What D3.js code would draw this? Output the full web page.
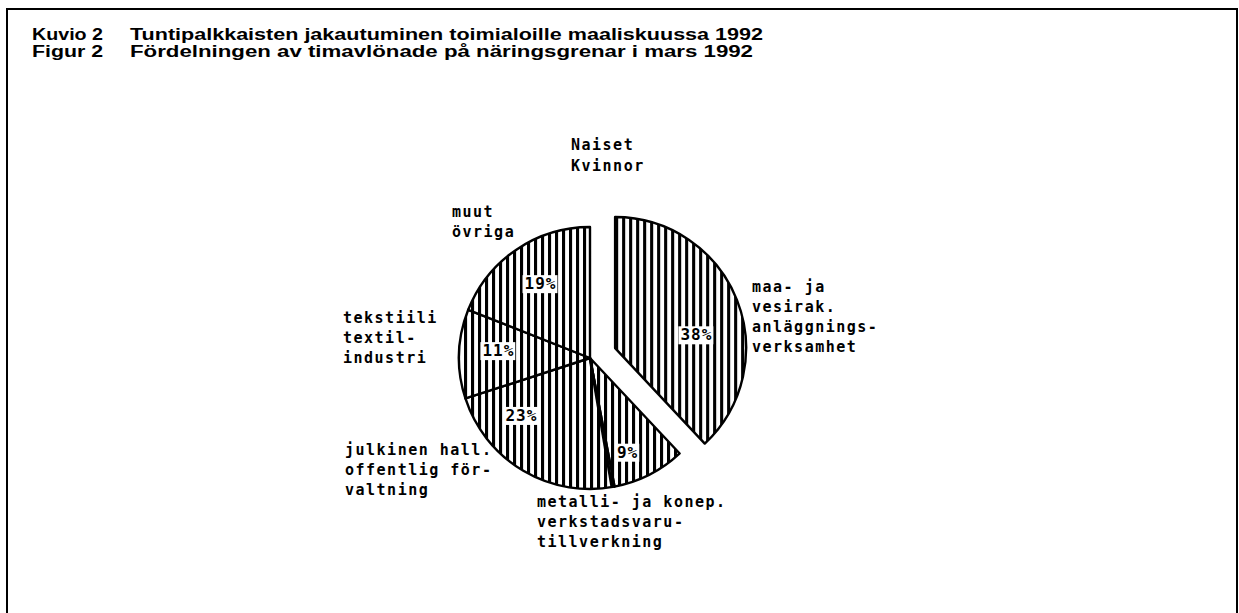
<!DOCTYPE html>
<html>
<head>
<meta charset="utf-8">
<script src="https://cdn.jsdelivr.net/npm/d3@7"></script>
<style>
  body { margin: 0; background: #fff; }
  .title { font-family: "Liberation Sans Narrow", "Liberation Sans", Arial, sans-serif; font-weight: bold; font-size: 16px; }
  .lbl { font-family: "DejaVu Sans Mono", monospace; font-weight: bold; font-size: 15px; letter-spacing: 1.5px; }
</style>
</head>
<body>
<svg id="chart" width="1239" height="613"></svg>
<script>
// figure text
const titleNums = ["Kuvio 2", "Figur 2"];
const titleTexts = ["Tuntipalkkaisten jakautuminen toimialoille maaliskuussa 1992",
                    "Fördelningen av timavlönade på näringsgrenar i mars 1992"];
const pieTitle = ["Naiset", "Kvinnor"];

// slices, clockwise from 12 o'clock
const shares = [38, 9, 23, 11, 19];
const categoryLines = [
  ["maa- ja", "vesirak.", "anläggnings-", "verksamhet"],
  ["metalli- ja konep.", "verkstadsvaru-", "tillverkning"],
  ["julkinen hall.", "offentlig för-", "valtning"],
  ["tekstiili", "textil-", "industri"],
  ["muut", "övriga"]
];

//layout, kept apart from the data
const W = 1239, H = 613;
const cx = 590, cy = 358, R = 131, explode = 27;
const labelOffsets = [[162, -66], [-53, 149], [-245, 97], [-247, -35], [-138, -141]]; // first baseline, rel. to centre
const pctNudge = [[-4, 20], [-4, 12], [-22, -22], [0, -5], [2, 1]];
const lineGap = 20;

const svg = d3.select('#chart');

// vertical hatching
const defs = svg.append('defs');
const pw = 7;
const pat = defs.append('pattern')
  .attr('id', 'vhatch')
  .attr('patternUnits', 'userSpaceOnUse')
  .attr('width', pw).attr('height', 10);
pat.append('rect').attr('width', pw).attr('height', 10).attr('fill', '#fff');
pat.append('rect').attr('x', 0).attr('width', 3.1).attr('height', 10).attr('fill', '#000');

// frame
svg.append('path')
  .attr('d', `M7,${H} V9 H1237 V${H}`)
  .attr('fill', 'none').attr('stroke', '#000').attr('stroke-width', 2);

// titles
svg.selectAll('text.num').data(titleNums).enter().append('text')
  .attr('class', 'title num')
  .attr('x', 32).attr('y', (d, i) => 40 + i * 17)
  .attr('textLength', 71).attr('lengthAdjust', 'spacingAndGlyphs')
  .text(d => d);
svg.selectAll('text.ttl').data(titleTexts).enter().append('text')
  .attr('class', 'title ttl')
  .attr('x', 130).attr('y', (d, i) => 40 + i * 17)
  .attr('textLength', (d, i) => i === 0 ? 633 : 623).attr('lengthAdjust', 'spacingAndGlyphs')
  .text(d => d);

// pie
const pie = d3.pie().sort(null).value(d => d);
const arcs = pie(shares);
const arc = d3.arc().innerRadius(0).outerRadius(R);
const labelArc = d3.arc().innerRadius(0.7 * R).outerRadius(0.7 * R);

const shift = (d, i) => {
  if (i !== 0) return [0, 0];
  const m = (d.startAngle + d.endAngle) / 2;
  return [Math.sin(m) * explode, -Math.cos(m) * explode];
};

const g = svg.append('g').attr('transform', `translate(${cx},${cy})`);

const slices = g.selectAll('g.slice').data(arcs).enter().append('g')
  .attr('class', 'slice')
  .attr('transform', (d, i) => `translate(${shift(d, i)})`);

slices.append('path')
  .attr('d', arc)
  .attr('fill', 'url(#vhatch)')
  .attr('stroke', '#000').attr('stroke-width', 2.4)
  .attr('stroke-linejoin', 'round');

// heavy seam between metalli and julkinen
const seam = arcs[1].endAngle + 0.02;
g.append('line')
  .attr('x1', 0).attr('y1', 0)
  .attr('x2', Math.sin(seam) * R).attr('y2', -Math.cos(seam) * R)
  .attr('stroke', '#000').attr('stroke-width', 3);

// percent labels on white patches
slices.each(function(d, i) {
  const s = d3.select(this);
  const [x, y] = labelArc.centroid(d);
  const t = s.append('text')
    .attr('class', 'lbl')
    .attr('x', x + pctNudge[i][0]).attr('y', y + 6 + pctNudge[i][1])
    .attr('text-anchor', 'middle')
    .style('font-size', '16px')
    .style('letter-spacing', '1px')
    .text(shares[i] + '%');
  const b = t.node().getBBox();
  s.insert('rect', 'text')
    .attr('x', b.x - 2).attr('y', b.y + 1)
    .attr('width', b.width + 3).attr('height', b.height - 1)
    .attr('fill', '#fff');
});

// category labels
categoryLines.forEach((lines, i) => {
  const [dx, dy] = labelOffsets[i];
  const t = svg.append('text').attr('class', 'lbl');
  lines.forEach((ln, j) => {
    t.append('tspan').attr('x', cx + dx).attr('y', cy + dy + j * lineGap).text(ln);
  });
});

// pie heading
svg.selectAll('text.ph').data(pieTitle).enter().append('text')
  .attr('class', 'lbl ph')
  .attr('x', 571).attr('y', (d, i) => 150 + i * 21)
  .text(d => d);
</script>
</body>
</html>
